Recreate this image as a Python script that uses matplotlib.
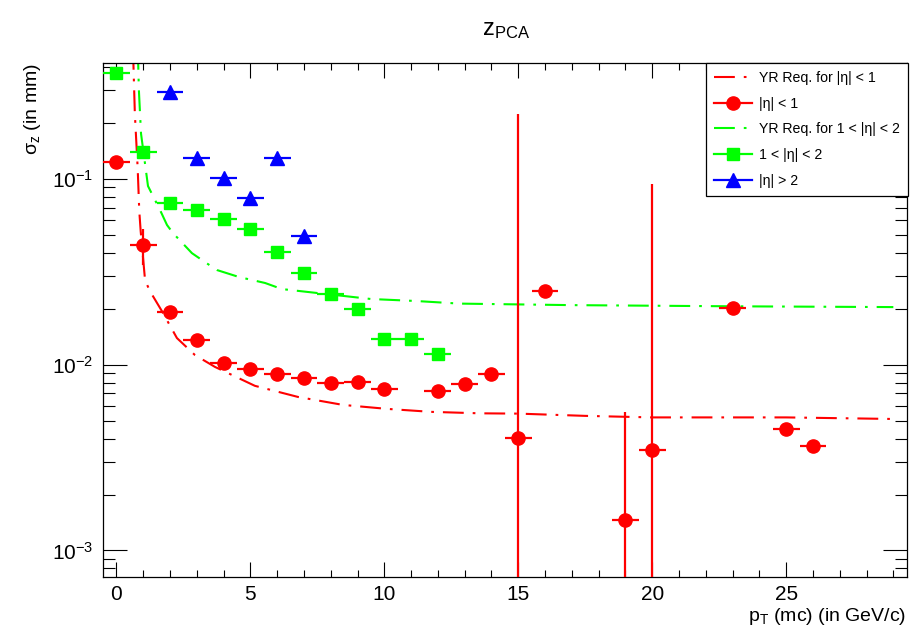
import matplotlib
matplotlib.use("Agg")
import matplotlib.pyplot as plt
from matplotlib.lines import Line2D
from matplotlib.ticker import MultipleLocator, LogLocator, NullFormatter

plt.rcParams['font.family'] = ['Liberation Sans', 'DejaVu Sans']
plt.rcParams['mathtext.fontset'] = 'custom'
plt.rcParams['mathtext.rm'] = 'Liberation Sans'
plt.rcParams['mathtext.it'] = 'Liberation Sans:italic'
plt.rcParams['mathtext.bf'] = 'Liberation Sans:bold'

# ---- resolution points, |eta| < 1
red_pt = [0, 1, 2, 3, 4, 5, 6, 7, 8, 9, 10, 12, 13, 14, 15, 16, 19, 20, 23, 25, 26]
red_sig = [0.123, 0.044, 0.0192, 0.0136, 0.01025, 0.00948, 0.00895, 0.00848, 0.0080,
           0.0081, 0.0074, 0.00725, 0.00787, 0.00891, 0.00405, 0.0249, 0.00145,
           0.00348, 0.0201, 0.00451, 0.00367]
red_err = [0.0, 0.0095, 0.0, 0.0, 0.0, 0.0, 0.0, 0.0, 0.0, 0.0, 0.0, 0.0, 0.0, 0.0,
           0.219, 0.0, 0.00414, 0.0898, 0.0, 0.0, 0.0]

# ---- 1 < |eta| < 2
green_pt = [0, 1, 2, 3, 4, 5, 6, 7, 8, 9, 10, 11, 12]
green_sig = [0.369, 0.1396, 0.0738, 0.0679, 0.0607, 0.0540, 0.0402, 0.0310, 0.0240,
             0.0199, 0.0137, 0.0137, 0.01138]

# ---- |eta| > 2
blue_pt = [2, 3, 4, 5, 6, 7]
blue_sig = [0.294, 0.1297, 0.1005, 0.079, 0.1287, 0.0494]

# ---- YR requirement curves
yr_red_pt = [0.62, 0.69, 0.795, 0.855, 0.907, 1.07, 1.25, 1.70, 2.26, 2.93, 3.68, 5.17,
             6.78, 8.46, 10.1, 11.75, 13.57, 15.0, 17.5, 20.0, 25.0, 29.0]
yr_red_sig = [0.50, 0.223, 0.114, 0.067, 0.0523, 0.0285, 0.0249, 0.0194, 0.0139, 0.01127,
              0.00972, 0.00769, 0.0067, 0.00607, 0.00578, 0.00557, 0.00547, 0.00545,
              0.0053, 0.0052, 0.0052, 0.0051]
yr_green_pt = [0.80, 0.84, 0.92, 1.18, 1.63, 1.89, 2.11, 2.82, 3.31, 3.75, 4.58, 5.55,
               6.18, 9.5, 11.18, 12.8, 17.0, 23.0, 29.0]
yr_green_sig = [0.50, 0.30, 0.175, 0.0914, 0.0679, 0.0564, 0.0511, 0.0398, 0.0356, 0.0323,
                0.0296, 0.0275, 0.0255, 0.02255, 0.0220, 0.0213, 0.0209, 0.0206, 0.0204]

bin_half = 0.5
dashdot = (0, (10, 4.3, 1.3, 4.3))
RED, GREEN, BLUE = 'red', '#00ff00', 'blue'

fig = plt.figure(figsize=(9.17, 6.29), dpi=100)
ax = fig.add_axes([0.1123, 0.0827, 0.8765, 0.8172])

ax.plot(yr_red_pt, yr_red_sig, color=RED, lw=1.5, ls=dashdot, zorder=2)
ax.errorbar(red_pt, red_sig, xerr=bin_half, yerr=red_err, fmt='o', color=RED,
            ms=9.5, elinewidth=1.6, capsize=0, zorder=3)
ax.plot(yr_green_pt, yr_green_sig, color=GREEN, lw=1.5, ls=dashdot, zorder=2)
ax.errorbar(green_pt, green_sig, xerr=bin_half, fmt='s', color=GREEN,
            ms=9, elinewidth=1.6, capsize=0, zorder=3)
ax.errorbar(blue_pt, blue_sig, xerr=bin_half, fmt='^', color=BLUE,
            ms=10, elinewidth=1.6, capsize=0, zorder=3)

ax.set_yscale('log', nonpositive='clip')
ax.set_xlim(-0.5, 29.5)
ax.set_ylim(7.2e-4, 0.42)

ax.xaxis.set_major_locator(MultipleLocator(5))
ax.xaxis.set_minor_locator(MultipleLocator(1))
ax.yaxis.set_major_locator(LogLocator(base=10))
ax.yaxis.set_minor_locator(LogLocator(base=10, subs=range(2, 10)))
ax.yaxis.set_minor_formatter(NullFormatter())

ax.tick_params(axis='both', which='both', direction='in', top=True, right=True,
               width=0.8, labelsize=15)
ax.tick_params(axis='x', which='major', length=10.8, pad=6)
ax.tick_params(axis='x', which='minor', length=5)
ax.tick_params(axis='y', which='major', length=17, pad=7)
ax.tick_params(axis='y', which='minor', length=8.3)
for sp in ax.spines.values():
    sp.set_linewidth(0.9)

ax.set_xlabel('p$_{\\mathrm{T}}$ (mc) (in GeV/c)', fontsize=14, ha='right', va='top')
ax.xaxis.set_label_coords(1.0, -0.056)
ax.set_ylabel('σ$_{\\mathrm{z}}$ (in mm)', fontsize=14, loc='top')
ax.yaxis.set_label_coords(-0.088, 1.0)
ax.yaxis.label.set_va('center')

fig.text(0.552, 0.952, 'z$_{\\mathrm{PCA}}$', fontsize=17, ha='center', va='center')

# legend entries in drawing order: requirement line, then its points
handles = [
    Line2D([], [], color=RED, lw=1.5, ls=dashdot),
    Line2D([], [], color=RED, lw=1.6, marker='o', ms=9.5),
    Line2D([], [], color=GREEN, lw=1.5, ls=dashdot),
    Line2D([], [], color=GREEN, lw=1.6, marker='s', ms=9),
    Line2D([], [], color=BLUE, lw=1.6, marker='^', ms=10),
]
labels = ['YR Req. for |η| < 1', '|η| < 1', 'YR Req. for 1 < |η| < 2',
          '1 < |η| < 2', '|η| > 2']
leg = ax.legend(handles, labels, loc='upper right', bbox_to_anchor=(1.0015, 1.0),
                fontsize=10.2, frameon=True, fancybox=False, framealpha=1,
                edgecolor='black', borderpad=0.55, labelspacing=0.83,
                handlelength=2.7, handletextpad=0.5, borderaxespad=0)
leg.get_frame().set_linewidth(0.9)

fig.savefig('out.png', dpi=100, facecolor='white')
